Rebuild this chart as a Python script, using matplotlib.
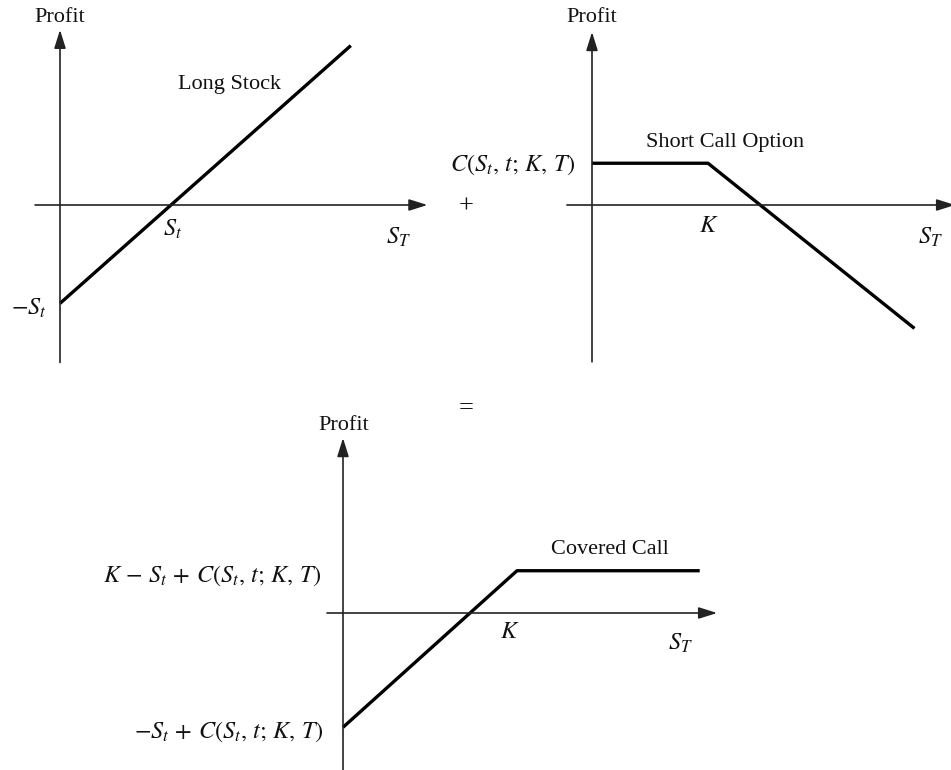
import matplotlib
matplotlib.use("Agg")
import matplotlib.pyplot as plt

# ---- data (each panel in its own units) ----
stock_ST = [0.0, 2.62]
stock_profit = [-1.0, 1.62]

call_ST = [0.0, 1.0, 2.78]
call_profit = [0.45, 0.45, -1.33]

cc_ST = [0.0, 1.0, 2.05]
cc_profit = [-0.73, 0.27, 0.27]

W, H = 951, 770
plt.rcParams['font.family'] = ['Liberation Serif', 'DejaVu Serif']
plt.rcParams['mathtext.fontset'] = 'stix'

fig = plt.figure(figsize=(W / 100, H / 100), dpi=100)
fig.patch.set_facecolor('white')

FS = 16
MS = 17.5


def fpos(x, y):
    return x / W, 1 - y / H


def panel(origin, xu, yu, rect):
    left, top, right, bottom = rect
    ax = fig.add_axes([left / W, 1 - bottom / H, (right - left) / W, (bottom - top) / H])
    ax.set_xlim((left - origin[0]) / xu, (right - origin[0]) / xu)
    ax.set_ylim((origin[1] - bottom) / yu, (origin[1] - top) / yu)
    ax.axis('off')
    return ax


def draw_axes(ax, x0, x1, y0, y1):
    ap = dict(arrowstyle='-|>,head_length=0.7,head_width=0.22', lw=1.2, color='#222222',
              shrinkA=0, shrinkB=0, mutation_scale=16)
    ax.annotate('', xy=(x1, 0), xytext=(x0, 0), arrowprops=ap, annotation_clip=False)
    ax.annotate('', xy=(0, y1), xytext=(0, y0), arrowprops=ap, annotation_clip=False)


def txt(x, y, s, ha='center', size=FS):
    fig.text(*fpos(x, y), s, ha=ha, va='center', fontsize=size, color='#111111')


CLABEL = r'C(S_t,\,t;\,K,\,T)'

# Panel 1: Long stock
ax1 = panel((60, 205), 111, 98.4, (15, 5, 445, 372))
draw_axes(ax1, -0.225, 3.31, -1.6, 1.78)
ax1.plot(stock_ST, stock_profit, color='black', lw=2.4, solid_capstyle='butt', clip_on=False)

txt(60, 18, 'Profit')
txt(230, 84, 'Long Stock')
txt(173, 229, r'$S_t$', size=MS)
txt(398, 237, r'$S_T$', size=MS)
txt(47, 308, r'$-S_t$', ha='right', size=MS)
txt(466, 207, '+', size=19)

# Panel 2: Short call
ax2 = panel((592, 205), 116, 92.8, (560, 5, 951, 372))
draw_axes(ax2, -0.216, 3.13, -1.69, 1.864)
ax2.plot(call_ST, call_profit, color='black', lw=2.4, solid_capstyle='butt', clip_on=False)

txt(592, 18, 'Profit')
txt(725, 142, 'Short Call Option')
txt(576, 165, '$' + CLABEL + '$', ha='right', size=MS)
txt(709, 226, r'$K$', size=MS)
txt(930, 237, r'$S_T$', size=MS)

txt(466, 408, '=', size=19)

# Panel 3: Covered call
ax3 = panel((343, 613), 174, 156.6, (320, 430, 730, 770))
draw_axes(ax3, -0.092, 2.15, -1.05, 1.117)
ax3.plot(cc_ST, cc_profit, color='black', lw=2.4, solid_capstyle='butt', clip_on=False)

txt(344, 426, 'Profit')
txt(610, 550, 'Covered Call')
txt(510, 633, r'$K$', size=MS)
txt(680, 643, r'$S_T$', size=MS)
txt(322, 576, r'$K\,-\,S_t\,+\,' + CLABEL + '$', ha='right', size=MS)
txt(324, 732, r'$-S_t\,+\,' + CLABEL + '$', ha='right', size=MS)

fig.savefig('out.png', dpi=100, facecolor='white')
